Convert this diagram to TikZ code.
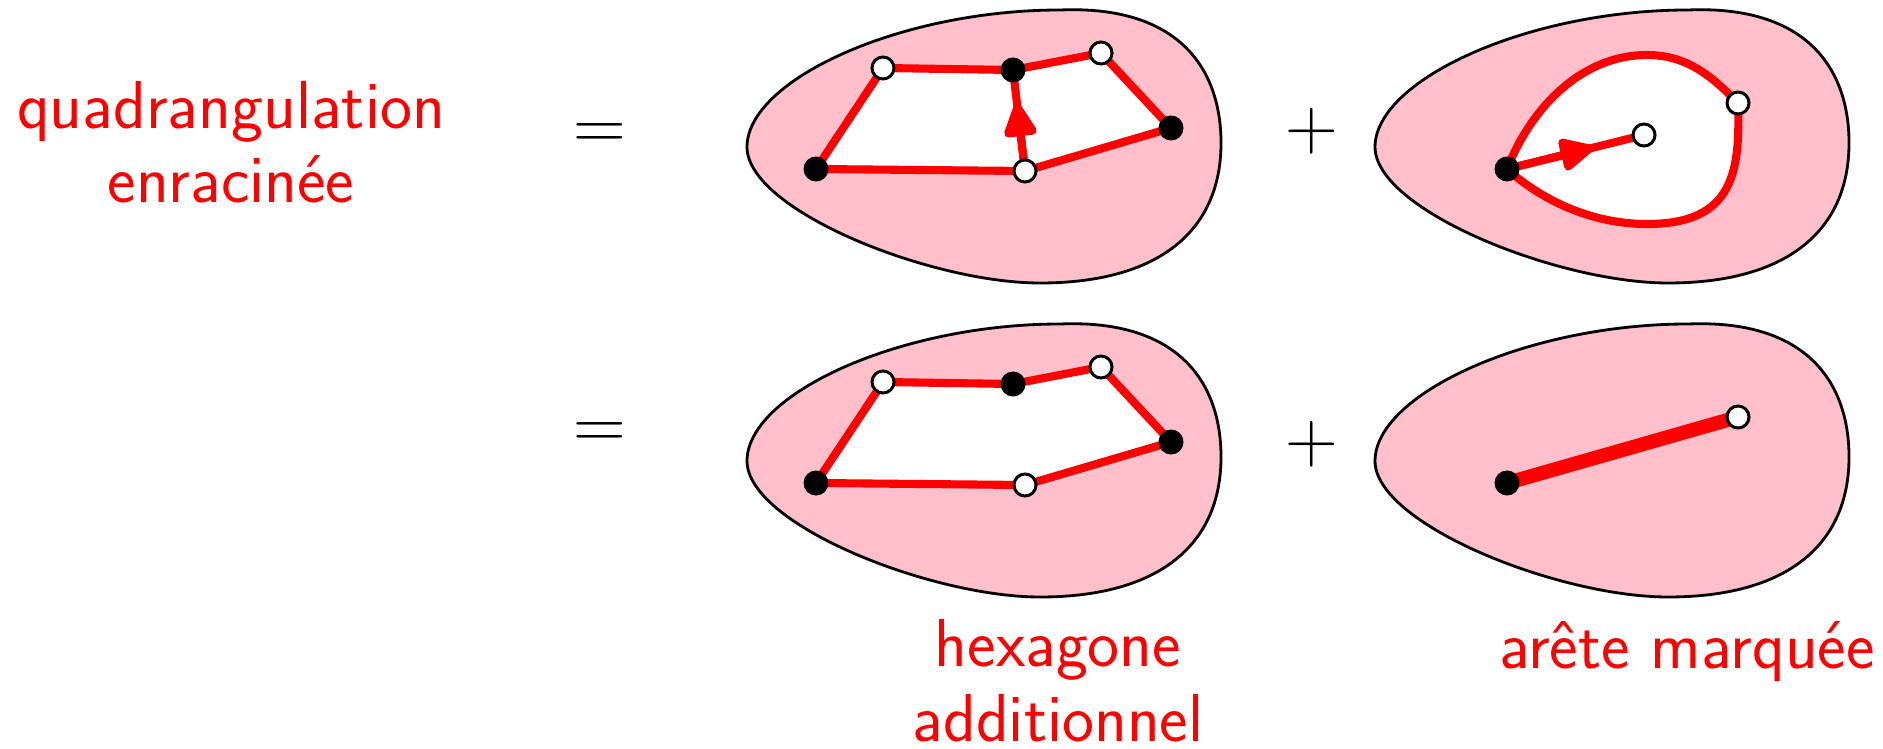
\documentclass[tikz,border=0pt]{standalone}
\usepackage{tikz}
\usetikzlibrary{arrows.meta, calc, backgrounds}
\definecolor{blobpink}{RGB}{255,192,203}
\newcommand{\blobshape}{(747,-147) .. controls (747,-80) and (900,-10) .. (1060,-10)
  .. controls (1180,-5) and (1221,-70) .. (1221,-143)
  .. controls (1221,-230) and (1160,-283) .. (1040,-283)
  .. controls (930,-283) and (747,-210) .. cycle}

\tikzset{
  blob/.style={draw=black, fill=blobpink, line width=0.8pt},
  face/.style={fill=white},
  edge/.style={draw=red, line width=2.3pt, line join=round},
  rootarrow/.style={-{Triangle[length=11pt, width=10pt, round]}},
  markededge/.style={draw=red, line width=4pt},
  blackv/.style={circle, fill=black, minimum size=0.25cm, inner sep=0pt},
  whitev/.style={circle, draw=black, fill=white, line width=0.85pt, minimum size=0.22cm, inner sep=0pt},
  lbl/.style={red, align=center, font=\fontsize{19.3}{21.3}\selectfont\sffamily},
  sym/.style={font=\fontsize{19.3}{21.3}\selectfont}
}

\begin{document}
\begin{tikzpicture}[x=0.01cm, y=0.01cm]
    \useasboundingbox (0,0) rectangle (1883,-749);

    % texts
    \node[lbl, anchor=base] (qlab) at (231,-203) {quadrangulation\\enracinée};
    \node[lbl, anchor=base] (hlab) at (1058,-741) {hexagone\\additionnel};
    \node[lbl, anchor=base] (mlab) at (1687,-668) {arête marquée};
    \node[sym] (eq1) at (600,-137) {$=$};
    \node[sym] (eq2) at (600,-436) {$=$};
    \node[sym] (plus1) at (1312,-131) {$+$};
    \node[sym] (plus2) at (1312,-444) {$+$};

    % vertices, first line
    \node[blackv] (a1) at (816,-169) {};
    \node[whitev] (b1) at (883,-68) {};
    \node[blackv] (c1) at (1013,-70) {};
    \node[whitev] (d1) at (1101,-53) {};
    \node[blackv] (e1) at (1171,-128) {};
    \node[whitev] (f1) at (1025,-171) {};
    \node[blackv] (g1) at (1507,-169) {};
    \node[whitev] (h1) at (1738,-103) {};
    \node[whitev] (i1) at (1644,-135) {};

    % vertices, second line
    \node[blackv] (a2) at (816,-483) {};
    \node[whitev] (b2) at (883,-382) {};
    \node[blackv] (c2) at (1013,-384) {};
    \node[whitev] (d2) at (1101,-367) {};
    \node[blackv] (e2) at (1171,-442) {};
    \node[whitev] (f2) at (1025,-485) {};
    \node[blackv] (g2) at (1507,-483) {};
    \node[whitev] (h2) at (1738,-417) {};

    \begin{scope}[on background layer]
        % the four blobs
        \draw[blob] \blobshape;
        \draw[blob, shift={(628,0)}] \blobshape;
        \draw[blob, shift={(0,-314)}] \blobshape;
        \draw[blob, shift={(628,-314)}] \blobshape;

        % rooted quadrangulation
        \fill[face] (a1.center) -- (b1.center) -- (c1.center) -- (f1.center) -- cycle;
        \fill[face] (f1.center) -- (c1.center) -- (d1.center) -- (e1.center) -- cycle;
        \draw[edge] (a1.center) -- (b1.center) -- (c1.center) -- (d1.center) -- (e1.center) -- (f1.center) -- cycle;
        \draw[edge] (f1.center) -- (c1.center);
        \draw[edge, rootarrow] (f1.center) -- ($(f1.center)!0.67!(c1.center)$);

        % loop with the root inside
        \draw[edge, fill=white] (g1.center) .. controls (1530,-110) and (1580,-55) .. (1647,-55)
            .. controls (1690,-55) and (1715,-80) .. (h1.center)
            .. controls (1740,-170) and (1735,-224) .. (1647,-224)
            .. controls (1580,-224) and (1530,-190) .. (g1.center);
        \draw[edge] (g1.center) -- (i1.center);
        \draw[edge, rootarrow] (g1.center) -- ($(g1.center)!0.63!(i1.center)$);

        % additional hexagon
        \fill[face] (a2.center) -- (b2.center) -- (c2.center) -- (d2.center) -- (e2.center) -- (f2.center) -- cycle;
        \draw[edge] (a2.center) -- (b2.center) -- (c2.center) -- (d2.center) -- (e2.center) -- (f2.center) -- cycle;

        % marked edge
        \draw[markededge] (g2.center) -- (h2.center);
    \end{scope}
\end{tikzpicture}
\end{document}
